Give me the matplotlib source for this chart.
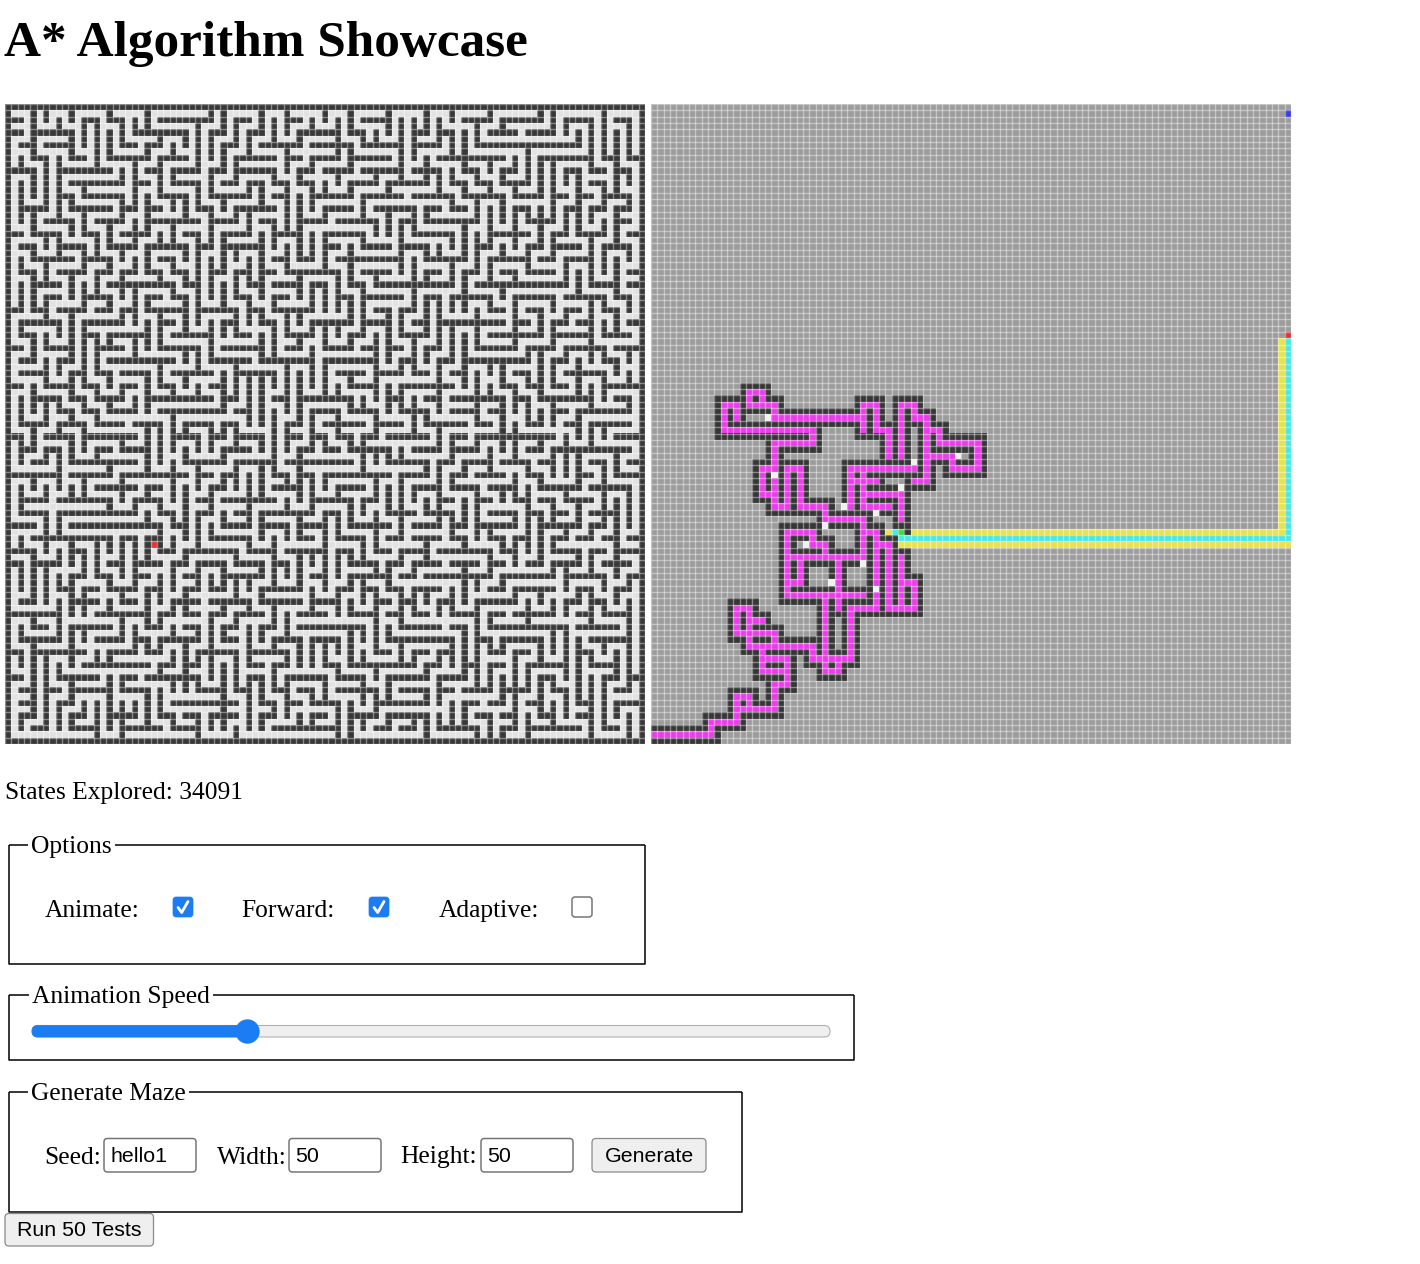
import numpy as np
import matplotlib
matplotlib.use("Agg")
import matplotlib.pyplot as plt
from matplotlib.patches import FancyBboxPatch, Circle
from matplotlib.lines import Line2D

# ---- page text ----
title = "A* Algorithm Showcase"
states_explored = 34091
option_labels = ["Animate:", "Forward:", "Adaptive:"]
option_checked = [True, True, False]
speed_value = 27          # percent of the slider
seed_text = "hello1"
maze_w, maze_h = 50, 50

# ---- right panel (agent view), cells given as (col, row) ----
# explored cells, drawn as corridor polylines
pink_paths = [
    [(0, 99), (9, 99), (9, 97), (13, 97), (13, 93), (15, 93), (15, 95)],
    [(13, 95), (19, 95), (19, 91), (21, 91), (21, 87), (17, 87)],
    [(17, 85), (17, 89), (21, 89)],
    [(15, 85), (25, 85), (25, 87), (31, 87), (31, 79), (35, 79)],
    [(27, 77), (27, 89), (29, 89), (29, 87)],
    [(21, 77), (33, 77)],
    [(13, 79), (13, 83), (19, 83), (19, 85)],
    [(13, 79), (15, 79), (15, 81), (17, 81)],
    [(15, 81), (15, 85)],
    [(15, 47), (15, 45), (17, 45), (17, 47)],
    [(11, 51), (11, 47), (13, 47), (13, 49)],
    [(15, 47), (19, 47), (19, 49), (33, 49)],
    [(11, 51), (25, 51), (25, 53), (19, 53), (19, 61), (17, 61), (17, 57), (19, 57)],
    [(19, 61), (19, 63), (21, 63), (21, 57), (23, 57), (23, 63), (27, 63),
     (27, 65), (33, 65), (33, 71)],
    [(31, 63), (31, 57), (41, 57)],
    [(33, 57), (33, 63), (37, 63)],
    [(31, 59), (35, 59)],
    [(33, 61), (39, 61), (39, 65)],
    [(33, 51), (33, 47), (35, 47), (35, 51), (37, 51), (37, 55)],
    [(39, 55), (39, 47), (41, 47), (41, 49), (43, 49), (43, 51), (45, 51), (45, 53),
     (51, 53), (51, 57), (47, 57), (47, 55), (43, 55)],
    [(43, 51), (43, 59), (41, 59)],
    [(21, 67), (25, 67), (25, 69), (27, 69), (27, 71)],
    [(21, 71), (33, 71)],
    [(21, 67), (21, 77)],
    [(23, 71), (23, 75), (21, 75)],
    [(29, 71), (29, 79)],
    [(33, 67), (35, 67), (35, 79)],
    [(35, 69), (37, 69), (37, 79)],
    [(37, 79), (41, 79), (41, 75), (39, 75)],
    [(39, 71), (39, 79)],
]
white_cells = [(18, 49), (19, 58), (24, 69), (27, 66), (30, 63), (35, 64), (33, 72),
               (28, 75), (35, 76), (39, 60), (41, 56), (48, 55)]
yellow_paths = [[(41, 67), (99, 67), (99, 37)], [(39, 69), (100, 69)], [(37, 67), (37, 67)]]
cyan_paths = [[(39, 68), (100, 68), (100, 37)], [(38, 67), (38, 67)]]
green_cells = [(39, 67)]
wall_cells = [(40, 67)]
goal_cells = [(100, 36)]
blue_cells = [(100, 1)]
left_red = (23, 69)

GRAY, WALL, PINK, WHITE, YELLOW, CYAN, GREEN, RED, BLUE = range(9)
palette = np.array([
    [156, 156, 156], [54, 54, 54], [235, 60, 235], [240, 240, 240],
    [232, 226, 78], [70, 232, 232], [60, 220, 60], [232, 50, 50], [60, 60, 230],
]) / 255.0


def make_maze(n, seed_str):
    # the app carves its maze from the seed string; carve one the same way here
    # (growing tree, mostly newest cell -> long corridors with some side branches)
    rng = np.random.default_rng(int.from_bytes(seed_str.encode(), "big"))
    size = 2 * n + 1
    g = np.ones((size, size), dtype=bool)
    seen = np.zeros((n, n), dtype=bool)
    start = (n - 1, 0)
    seen[start] = True
    g[2 * start[0] + 1, 2 * start[1] + 1] = False
    active = [start]
    while active:
        i = len(active) - 1 if rng.random() < 0.7 else int(rng.integers(len(active)))
        r, c = active[i]
        nbrs = [(r + dr, c + dc) for dr, dc in ((1, 0), (-1, 0), (0, 1), (0, -1))
                if 0 <= r + dr < n and 0 <= c + dc < n and not seen[r + dr, c + dc]]
        if not nbrs:
            active.pop(i)
            continue
        nr, nc = nbrs[int(rng.integers(len(nbrs)))]
        seen[nr, nc] = True
        g[2 * nr + 1, 2 * nc + 1] = False
        g[r + nr + 1, c + nc + 1] = False
        active.append((nr, nc))
    return g


def stamp(grid, pts, val):
    for (c0, r0), (c1, r1) in zip(pts[:-1], pts[1:]):
        grid[min(r0, r1):max(r0, r1) + 1, min(c0, c1):max(c0, c1) + 1] = val


# left maze
maze = make_maze(maze_w, seed_text)
n_cells = maze.shape[0]
left_rgb = np.where(maze[..., None], np.array([56, 56, 56]) / 255, np.array([226, 226, 226]) / 255)
left_rgb[left_red[1], left_red[0]] = palette[RED]

# right view
view = np.zeros((n_cells, n_cells), dtype=int)
for p in pink_paths:
    stamp(view, p, PINK)
pink = view == PINK
padded = np.pad(pink, 1)
grown = np.zeros_like(pink)
for dr in (0, 1, 2):
    for dc in (0, 1, 2):
        grown |= padded[dr:dr + n_cells, dc:dc + n_cells]
view[grown & ~pink] = WALL
for c, r in white_cells:
    view[r, c] = WHITE
for p in yellow_paths:
    stamp(view, p, YELLOW)
for p in cyan_paths:
    stamp(view, p, CYAN)
for c, r in green_cells:
    view[r, c] = GREEN
for c, r in wall_cells:
    view[r, c] = WALL
for c, r in goal_cells:
    view[r, c] = RED
for c, r in blue_cells:
    view[r, c] = BLUE
right_rgb = palette[view]

# ---- figure ----
fig = plt.figure(figsize=(14.2, 12.64), dpi=100)
ax = fig.add_axes([0, 0, 1, 1])
ax.set_xlim(0, 1420)
ax.set_ylim(1264, 0)
ax.axis("off")

serif = ["Liberation Serif", "DejaVu Serif"]
sans = ["Liberation Sans", "DejaVu Sans"]
body = 18.4
ctrl = 15.4
blue = "#1b7cf3"

ax.text(4, 56, title, fontsize=36.9, fontweight="bold", family=serif, va="baseline")

for x0, img in [(5, left_rgb), (651, right_rgb)]:
    ax.imshow(img, extent=(x0, x0 + 640, 744, 104), interpolation="nearest", zorder=1)
    step = 640 / n_cells
    lines = np.arange(n_cells + 1) * step
    ax.vlines(x0 + lines, 104, 744, color="white", alpha=0.4, lw=1.0, zorder=2)
    ax.hlines(104 + lines, x0, x0 + 640, color="white", alpha=0.4, lw=1.0, zorder=2)

ax.text(5, 799, f"States Explored: {states_explored}", fontsize=body, family=serif, va="baseline")

renderer = fig.canvas.get_renderer()


def fieldset(x0, y0, x1, y1, legend, lx, ly):
    t = ax.text(lx, ly, legend, fontsize=body, family=serif, va="baseline")
    bb = t.get_window_extent(renderer).transformed(ax.transData.inverted())
    kw = dict(color="black", lw=1.1, solid_capstyle="butt")
    ax.add_line(Line2D([x0, x0, x1, x1], [y0, y1, y1, y0], **kw))
    ax.add_line(Line2D([x0, bb.x0 - 3], [y0, y0], **kw))
    ax.add_line(Line2D([bb.x1 + 3, x1], [y0, y0], **kw))


def rbox(x0, y0, x1, y1, r, fc, ec, lw):
    ax.add_patch(FancyBboxPatch((x0, y0), x1 - x0, y1 - y0,
                                boxstyle=f"round,pad=0,rounding_size={r}",
                                fc=fc, ec=ec, lw=lw, zorder=3))


# Options
fieldset(8.5, 845, 645, 964, "Options", 31, 853)
label_x = [45, 241, 439]
box_x = [173, 369, 572]
for lab, lx, bx, on in zip(option_labels, label_x, box_x, option_checked):
    ax.text(lx, 917, lab, fontsize=body, family=serif, va="baseline")
    if on:
        rbox(bx, 897, bx + 20, 917, 3, blue, blue, 0.5)
        ax.add_line(Line2D([bx + 5, bx + 8.7, bx + 15], [907.5, 912.5, 901.5],
                           color="white", lw=2.0, solid_capstyle="round", zorder=4))
    else:
        rbox(bx, 897, bx + 20, 917, 3, "white", "#767676", 1.1)

# Animation speed slider
fieldset(8.5, 995, 854, 1060, "Animation Speed", 32, 1003)
tx0, tx1 = 32, 830
knob_x = tx0 + (tx1 - tx0) * speed_value / 100
rbox(tx0, 1025.5, tx1, 1037, 5.7, "#efefef", "#b0b0b0", 0.8)
rbox(tx0, 1025.5, knob_x, 1037, 5.7, blue, blue, 0.5)
ax.add_patch(Circle((knob_x, 1031.5), 11.5, fc=blue, ec=blue, zorder=5))

# Generate maze
fieldset(8.5, 1091.5, 742, 1212, "Generate Maze", 31, 1099.5)
gen_labels = [("Seed:", 44.5, 104, seed_text), ("Width:", 216.5, 289, str(maze_w)),
              ("Height:", 400, 481, str(maze_h))]
for lab, lx, ix, val in gen_labels:
    ax.text(lx, 1163.5, lab, fontsize=body, family=serif, va="baseline")
    rbox(ix, 1138.5, ix + 92, 1172, 3.5, "white", "#767676", 1.1)
    ax.text(ix + 6.5, 1162, val, fontsize=ctrl, family=sans, va="baseline")

rbox(592, 1138.5, 706, 1172, 4, "#efefef", "#8a8a8a", 0.9)
ax.text(649, 1162, "Generate", fontsize=ctrl, family=sans, va="baseline", ha="center")

rbox(5, 1213.5, 153.5, 1246, 4, "#efefef", "#8a8a8a", 0.9)
ax.text(79.5, 1236, "Run 50 Tests", fontsize=ctrl, family=sans, va="baseline", ha="center")

fig.savefig("out.png", dpi=100)
